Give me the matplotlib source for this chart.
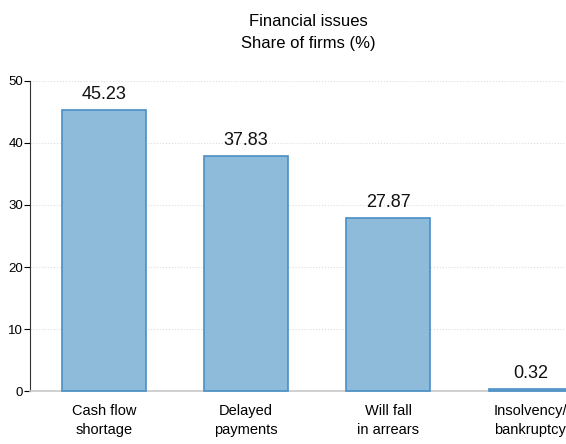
import matplotlib.pyplot as plt

categories = ['Cash flow\nshortage', 'Delayed\npayments', 'Will fall\nin arrears', 'Insolvency/\nbankruptcy']
values = [45.23, 37.83, 27.87, 0.32]
yticks = [0, 10, 20, 30, 40, 50]

plt.rcParams['font.family'] = ['Liberation Sans', 'DejaVu Sans']

fig = plt.figure(figsize=(5.66, 4.44), dpi=100)
ax = fig.add_axes([0.053, 0.119, 0.947, 0.699])

pos = range(len(categories))
bars = ax.bar(pos, values, width=0.59, color='#8fbbdb', edgecolor='#4a8fc6', linewidth=1.2, zorder=3, clip_on=False)
for p, v in zip(pos, values):
    ax.text(p, v + 1.2, f'{v:.2f}', ha='center', va='bottom', fontsize=13, color='#111111')

ax.set_xlim(-0.52, 3.25)
ax.set_ylim(0, 50)
ax.set_yticks(yticks)
ax.set_xticks(list(pos))
ax.set_xticklabels(categories, fontsize=10.5, linespacing=1.45)
ax.tick_params(axis='x', length=0, pad=9)
ax.tick_params(axis='y', labelsize=9.5, length=4, width=0.8, pad=1)

ax.yaxis.grid(True, linestyle=':', color='#dddddd', linewidth=0.8, zorder=0)
for s in ['top', 'right']:
    ax.spines[s].set_visible(False)
ax.spines['left'].set_color('#333333')
ax.spines['bottom'].set_color('#c8c8c8')
ax.spines['bottom'].set_linewidth(1.2)

fig.text(0.545, 0.968, 'Financial issues\nShare of firms (%)', ha='center', va='top', fontsize=12, linespacing=1.6)

fig.savefig('out.png', dpi=100)
